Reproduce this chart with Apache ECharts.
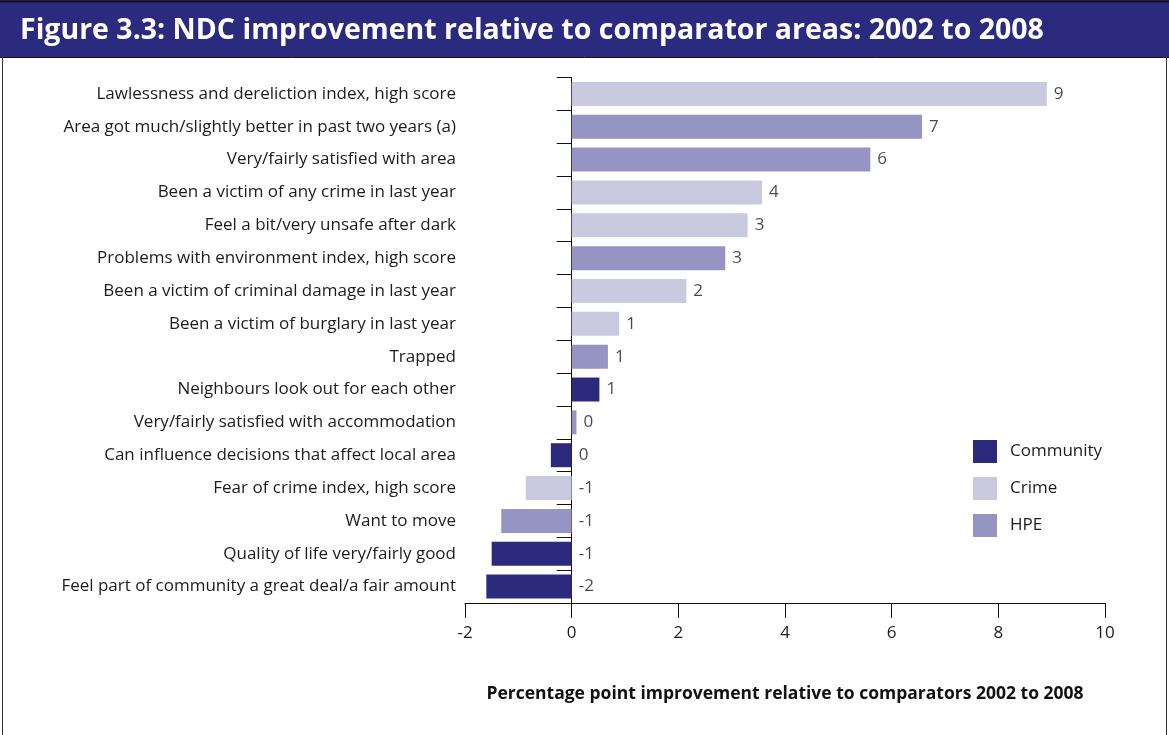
<!DOCTYPE html>
<html>
<head>
<meta charset="utf-8">
<script src="https://cdn.jsdelivr.net/npm/echarts@6/dist/echarts.min.js"></script>
<style>
  html, body { margin: 0; padding: 0; background: #fff; }
  #chart { width: 1169px; height: 735px; }
</style>
</head>
<body>
<div id="chart"></div>
<script>
// Indicators, top to bottom
const categories = [
  'Lawlessness and dereliction index, high score',
  'Area got much/slightly better in past two years (a)',
  'Very/fairly satisfied with area',
  'Been a victim of any crime in last year',
  'Feel a bit/very unsafe after dark',
  'Problems with environment index, high score',
  'Been a victim of criminal damage in last year',
  'Been a victim of burglary in last year',
  'Trapped',
  'Neighbours look out for each other',
  'Very/fairly satisfied with accommodation',
  'Can influence decisions that affect local area',
  'Fear of crime index, high score',
  'Want to move',
  'Quality of life very/fairly good',
  'Feel part of community a great deal/a fair amount'
];

// Percentage point improvement relative to comparators
const values = [8.91, 6.57, 5.6, 3.57, 3.3, 2.88, 2.15, 0.89, 0.68, 0.52, 0.09, -0.39, -0.86, -1.32, -1.5, -1.6];

// Theme of each indicator
const groups = ['Crime', 'HPE', 'HPE', 'Crime', 'Crime', 'HPE', 'Crime', 'Crime', 'HPE', 'Community', 'HPE', 'Community', 'Crime', 'HPE', 'Community', 'Community'];

const groupNames = ['Community', 'Crime', 'HPE'];
const groupColors = { Community: '#2B2A7D', Crime: '#C9C9E0', HPE: '#9594C2' };

const xTicks = { min: -2, max: 10, interval: 2 };

const FONT = '"Open Sans", "Noto Sans", sans-serif';
const NAVY = '#2B2A7E';

const barSeries = groupNames.map(g => ({
  name: g,
  type: 'bar',
  stack: 'all',
  barWidth: 24,
  itemStyle: { color: groupColors[g] },
  emphasis: { disabled: true },
  data: values.map((v, i) => (groups[i] === g ? v : '-'))
}));

// Rounded value labels, placed right of the bar end (or right of zero for negatives)
const labelSeries = {
  name: 'labels',
  type: 'scatter',
  symbolSize: 0,
  silent: true,
  z: 5,
  data: values.map((v, i) => [Math.max(v, 0), i, v]),
  label: {
    show: true,
    position: 'right',
    distance: 7,
    color: '#1c1c1c',
    fontSize: 17,
    fontFamily: FONT,
    formatter: p => String(Math.round(p.data[2]))
  }
};

const chart = echarts.init(document.getElementById('chart'), null, { renderer: 'canvas' });

chart.setOption({
  animation: false,
  backgroundColor: '#fff',
  title: {
    text: 'Figure 3.3: NDC improvement relative to comparator areas: 2002 to 2008',
    left: 20,
    top: 16,
    padding: 0,
    textStyle: { color: '#fff', fontSize: 28.5, fontWeight: 'bold', fontFamily: FONT }
  },
  graphic: [
    { type: 'rect', z: -1, shape: { x: 0, y: 0, width: 1169, height: 57 }, style: { fill: NAVY } },
    { type: 'line', shape: { x1: 0, y1: 1.5, x2: 1169, y2: 1.5 }, style: { stroke: '#111', lineWidth: 2 } },
    { type: 'line', shape: { x1: 0, y1: 57.5, x2: 1169, y2: 57.5 }, style: { stroke: '#111', lineWidth: 1 } },
    { type: 'line', shape: { x1: 2.5, y1: 57, x2: 2.5, y2: 735 }, style: { stroke: '#333', lineWidth: 1 } },
    { type: 'line', shape: { x1: 1166.5, y1: 57, x2: 1166.5, y2: 735 }, style: { stroke: '#333', lineWidth: 1 } }
  ],
  legend: {
    data: groupNames,
    orient: 'vertical',
    left: 973,
    top: 440,
    padding: 0,
    itemWidth: 24,
    itemHeight: 23,
    itemGap: 14,
    selectedMode: false,
    icon: 'rect',
    textStyle: { color: '#1c1c1c', fontSize: 17, fontFamily: FONT, padding: [0, 0, 0, 8] }
  },
  grid: { left: 465, right: 64, top: 77.5, bottom: 132, containLabel: false, outerBoundsMode: 'none' },
  xAxis: {
    type: 'value',
    min: xTicks.min,
    max: xTicks.max,
    interval: xTicks.interval,
    splitLine: { show: false },
    axisLine: { show: true, lineStyle: { color: '#111', width: 1 } },
    axisTick: { show: true, length: 15, lineStyle: { color: '#111' } },
    axisLabel: { color: '#1c1c1c', fontSize: 17, fontFamily: FONT, margin: 22 },
    name: 'Percentage point improvement relative to comparators 2002 to 2008',
    nameLocation: 'middle',
    nameGap: 82,
    nameTextStyle: { color: '#111', fontSize: 17.5, fontWeight: 'bold', fontFamily: FONT }
  },
  yAxis: {
    type: 'category',
    inverse: true,
    data: categories,
    axisLine: { show: true, onZero: true, lineStyle: { color: '#111', width: 1 } },
    axisTick: { show: true, length: 15, lineStyle: { color: '#111' } },
    axisLabel: { color: '#1c1c1c', fontSize: 17, fontFamily: FONT, margin: 9 }
  },
  series: [...barSeries, labelSeries]
});
</script>
</body>
</html>
